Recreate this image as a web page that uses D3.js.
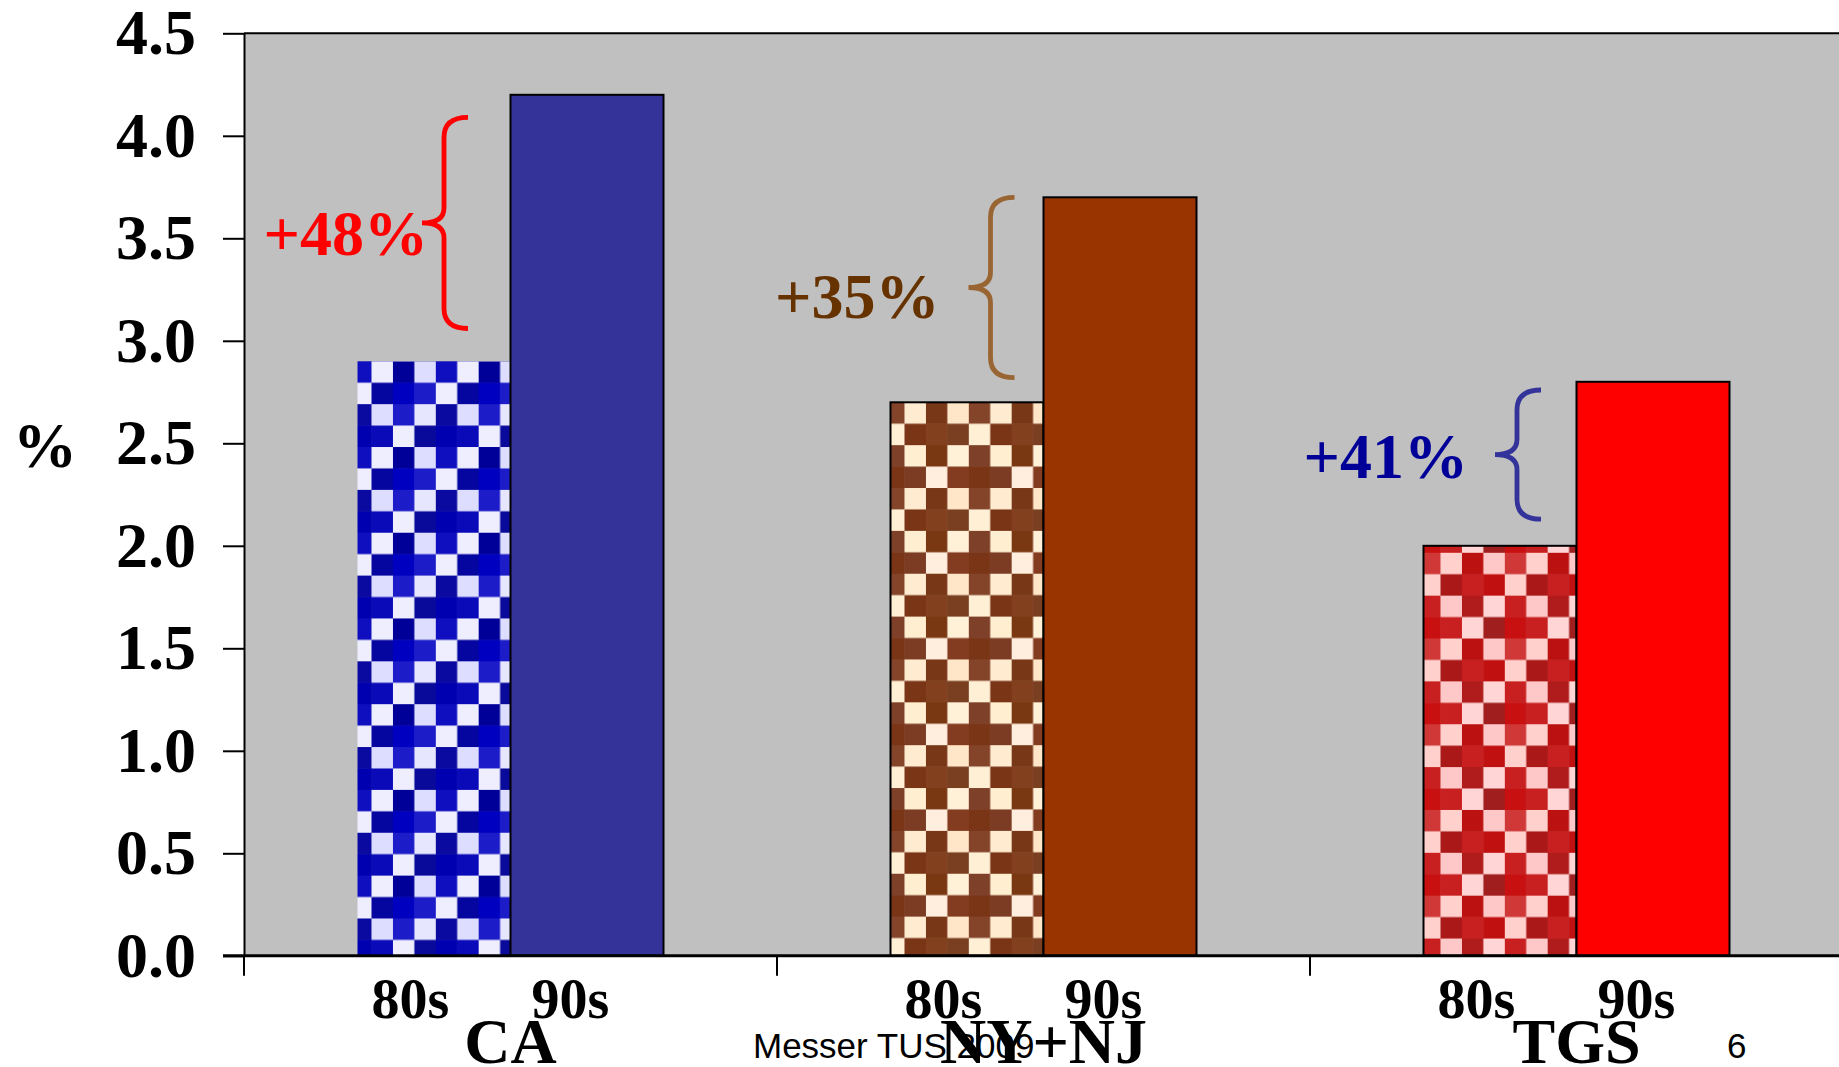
<!DOCTYPE html>
<html>
<head>
<meta charset="utf-8">
<script src="https://cdn.jsdelivr.net/npm/d3@7"></script>
<style>
  html, body { margin: 0; padding: 0; background: #ffffff; }
  svg { display: block; }
</style>
</head>
<body>
<svg id="chart" width="1839" height="1067"></svg>
<script>
// ---- data ----
const categories = ["CA", "NY+NJ", "TGS"];
const decades = ["80s", "90s"];
const values80s = [2.9, 2.7, 2.0];
const values90s = [4.2, 3.7, 2.8];
const yTicks = [0, 0.5, 1, 1.5, 2, 2.5, 3, 3.5, 4, 4.5];
const changeLabels = ["+48%", "+35%", "+41%"];
// vertical extent (in %) covered by each growth brace
const braceLow = [3.06, 2.82, 2.13];
const braceHigh = [4.09, 3.70, 2.76];
// baseline (in %) of each growth label
const labelBaseline = [3.42, 3.11, 2.33];

// ---- styling ----
const serif = "'Liberation Serif', 'Times New Roman', serif";
const sans = "'Liberation Sans', Arial, sans-serif";
const solidFill = { "CA": "#333399", "NY+NJ": "#993300", "TGS": "#ff0000" };
const braceColor = { "CA": "#ff0000", "NY+NJ": "#996633", "TGS": "#333399" };
const labelColor = { "CA": "#ff0000", "NY+NJ": "#663300", "TGS": "#000099" };
const outlined80s = { "CA": false, "NY+NJ": true, "TGS": true };
// brace tip distance left of the 90s bar, and label end distance left of the tip
const braceGap = { "CA": 42.5, "NY+NJ": 29, "TGS": 35.5 };
const labelGap = { "CA": 40, "NY+NJ": 75, "TGS": 73 };

// checker texture for the 80s bars: 4x4 tile of cells
const cell = 21.43;
const texture = {
  "CA": [
    ["#0f0fc0", "#eeeeff", "#000099", "#ddddff"],
    ["#eeeeff", "#05059f", "#0000c0", "#1c1cc8"],
    ["#0a0aa0", "#ddddff", "#1c1cc8", "#e6e6ff"],
    ["#0000b0", "#0a0ab8", "#eeeeff", "#0a0a9a"]
  ],
  "NY+NJ": [
    ["#84442a", "#ffebd0", "#783818", "#ffe6c8"],
    ["#ffefd5", "#7a3416", "#82401e", "#7a3e20"],
    ["#7e4028", "#ffeed0", "#7a3812", "#fff0d8"],
    ["#7a3416", "#7c3c24", "#ffeedd", "#843c20"]
  ],
  "TGS": [
    ["#d03838", "#ffd0cc", "#bb1111", "#ffc8c8"],
    ["#ffd0cc", "#aa1818", "#c82020", "#c01010"],
    ["#c82020", "#ffc8c8", "#b01c1c", "#ffd5d5"],
    ["#c81010", "#c82020", "#ffd5d5", "#a01e1e"]
  ]
};
// phase of the texture relative to the bar's top-left corner
const texturePhase = { "CA": [-7.4, 0], "NY+NJ": [-7.4, 0], "TGS": [-4.4, 7] };

// ---- layout ----
const svg = d3.select("#chart");
const W = 1839, H = 1067;
const plotLeft = 244, plotRight = 1843, plotTop = 33.3, plotBottom = 955.8;

const x = d3.scaleBand().domain(categories).range([plotLeft, plotRight]).padding(0);
const xd = d3.scaleBand().domain(decades).range([113.5, 419.5]).padding(0);
const y = d3.scaleLinear().domain([0, 4.5]).range([plotBottom, plotTop]);

// plot background
svg.append("rect")
  .attr("x", plotLeft).attr("y", y(4.5))
  .attr("width", W - plotLeft).attr("height", y(0) - y(4.5))
  .attr("fill", "#c0c0c0");

// top frame line
svg.append("line")
  .attr("x1", plotLeft).attr("x2", W)
  .attr("y1", y(4.5)).attr("y2", y(4.5))
  .attr("stroke", "#000").attr("stroke-width", 2);

// bar records
const bars = [];
categories.forEach((c, i) => {
  bars.push({ cat: c, dec: "80s", v: values80s[i] });
  bars.push({ cat: c, dec: "90s", v: values90s[i] });
});

// texture patterns for the 80s bars
const defs = svg.append("defs");
bars.filter(b => b.dec === "80s").forEach(b => {
  const bx = x(b.cat) + xd(b.dec);
  const by = y(b.v);
  const ph = texturePhase[b.cat];
  const pat = defs.append("pattern")
    .attr("id", "tex-" + categories.indexOf(b.cat))
    .attr("patternUnits", "userSpaceOnUse")
    .attr("x", bx + ph[0]).attr("y", by + ph[1])
    .attr("width", cell * 4).attr("height", cell * 4);
  const grid = texture[b.cat];
  grid.forEach((row, r) => {
    row.forEach((col, k) => {
      pat.append("rect")
        .attr("x", k * cell).attr("y", r * cell)
        .attr("width", cell + 0.4).attr("height", cell + 0.4)
        .attr("fill", col);
    });
  });
});

// bars
svg.append("g").selectAll("rect")
  .data(bars)
  .join("rect")
  .attr("x", d => x(d.cat) + xd(d.dec))
  .attr("y", d => y(d.v))
  .attr("width", xd.bandwidth())
  .attr("height", d => y(0) - y(d.v))
  .attr("fill", d => d.dec === "80s" ? "url(#tex-" + categories.indexOf(d.cat) + ")" : solidFill[d.cat])
  .attr("stroke", d => (d.dec === "90s" || outlined80s[d.cat]) ? "#000" : "none")
  .attr("stroke-width", 2);

// y axis
const yAxis = d3.axisLeft(y)
  .tickValues(yTicks)
  .tickFormat(d3.format(".1f"))
  .tickSize(21)
  .tickSizeOuter(0)
  .tickPadding(27);
const gy = svg.append("g").attr("transform", `translate(${plotLeft},0)`).call(yAxis);
gy.select(".domain").attr("stroke", "#000").attr("stroke-width", 2);
gy.selectAll(".tick line").attr("stroke", "#000").attr("stroke-width", 2);
gy.selectAll(".tick text")
  .attr("fill", "#000")
  .style("font-family", serif)
  .style("font-weight", "bold")
  .style("font-size", "64px");

// x axis baseline and category boundary ticks
svg.append("line")
  .attr("x1", plotLeft - 21).attr("x2", W)
  .attr("y1", y(0)).attr("y2", y(0))
  .attr("stroke", "#000").attr("stroke-width", 3);
svg.append("g").selectAll("line")
  .data(categories)
  .join("line")
  .attr("x1", d => x(d)).attr("x2", d => x(d))
  .attr("y1", y(0)).attr("y2", y(0) + 20)
  .attr("stroke", "#000").attr("stroke-width", 2);

// decade labels
const decadeShift = { "80s": -100, "90s": 60 };
svg.append("g").selectAll("text")
  .data(bars)
  .join("text")
  .attr("x", d => x(d.cat) + x.bandwidth() / 2 + decadeShift[d.dec])
  .attr("y", 1018)
  .attr("text-anchor", "middle")
  .style("font-family", serif)
  .style("font-weight", "bold")
  .style("font-size", "56px")
  .text(d => d.dec);

// category labels
svg.append("g").selectAll("text")
  .data(categories)
  .join("text")
  .attr("x", d => x(d) + x.bandwidth() / 2)
  .attr("y", 1063)
  .attr("text-anchor", "middle")
  .style("font-family", serif)
  .style("font-weight", "bold")
  .style("font-size", "64px")
  .text(d => d);

// y axis title
svg.append("text")
  .attr("x", 13).attr("y", 467)
  .style("font-family", serif)
  .style("font-weight", "bold")
  .style("font-size", "64px")
  .text("%");

// growth braces
function bracePath(xt, yt, yb) {
  const xs = xt - 24, xm = xt - 46;
  const ym = (yt + yb) / 2, ry = 20, rm = 15;
  return `M${xt},${yt} Q${xs},${yt} ${xs},${yt + ry} L${xs},${ym - rm} Q${xs},${ym} ${xm},${ym}` +
         ` Q${xs},${ym} ${xs},${ym + rm} L${xs},${yb - ry} Q${xs},${yb} ${xt},${yb}`;
}
const ann = svg.append("g");
categories.forEach((c, i) => {
  const tip = x(c) + xd("90s") - braceGap[c];
  ann.append("path")
    .attr("d", bracePath(tip, y(braceHigh[i]), y(braceLow[i])))
    .attr("fill", "none")
    .attr("stroke", braceColor[c])
    .attr("stroke-width", 4.8);
  ann.append("text")
    .attr("x", tip - labelGap[c])
    .attr("y", y(labelBaseline[i]))
    .attr("text-anchor", "end")
    .attr("fill", labelColor[c])
    .style("font-family", serif)
    .style("font-weight", "bold")
    .style("font-size", "64px")
    .text(changeLabels[i]);
});

// footer
svg.append("text")
  .attr("x", 753).attr("y", 1058)
  .style("font-family", sans)
  .style("font-size", "35px")
  .text("Messer TUS 2009");
svg.append("text")
  .attr("x", 1727).attr("y", 1058)
  .style("font-family", sans)
  .style("font-size", "35px")
  .text("6");
</script>
</body>
</html>
